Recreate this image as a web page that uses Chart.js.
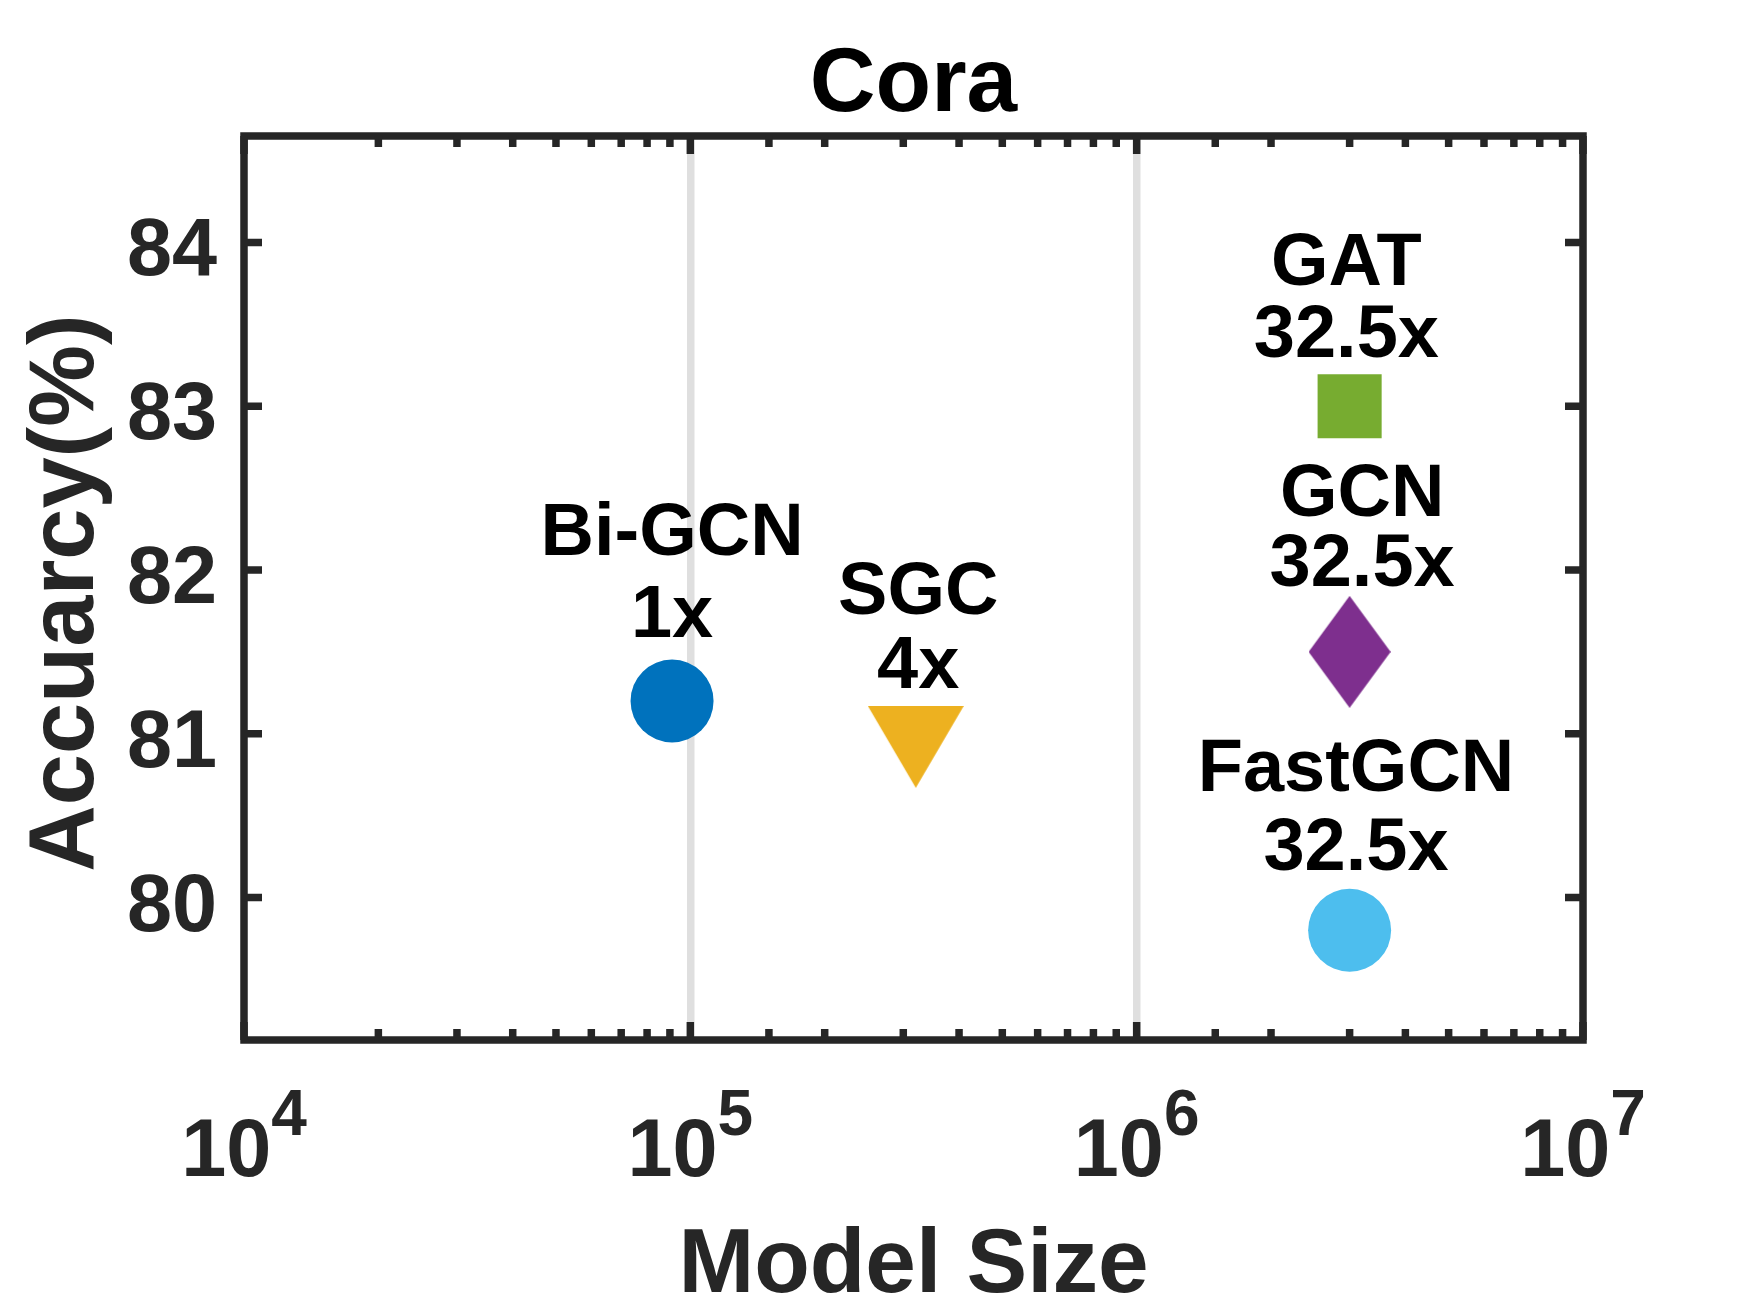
<!DOCTYPE html>
<html>
<head>
<meta charset="utf-8">
<script src="https://cdn.jsdelivr.net/npm/chart.js@4.4.1/dist/chart.umd.min.js"></script>
<style>
  html, body { margin: 0; padding: 0; background: #fff; }
  canvas { display: block; }
</style>
</head>
<body>
<canvas id="chart" width="1750" height="1313"></canvas>
<script>
// values
const methods = ["Bi-GCN", "SGC", "GAT", "GCN", "FastGCN"];
const ratios = ["1x", "4x", "32.5x", "32.5x", "32.5x"];
const modelSize = [9.1e4, 3.2e5, 3.0e6, 3.0e6, 3.0e6];
const accuracy = [81.2, 80.92, 83.0, 81.5, 79.8];

// where each two-line label sits, in data units (x centre, baseline of each line)
const labelX = [9.1e4, 3.24e5, 2.95e6, 3.2e6, 3.1e6];
const nameY = [82.09, 81.73, 83.74, 82.33, 80.65];
const ratioY = [81.59, 81.28, 83.30, 81.90, 80.17];

const xTicks = [1e4, 1e5, 1e6, 1e7];
const yTicks = [80, 81, 82, 83, 84];

const FONT = "'Liberation Sans', Arial, sans-serif";
const AXIS = "#262626";
const colors = ["#0072BD", "#EDB120", "#77AC30", "#7E2F8E", "#4DBEEE"];

// custom marker shapes (MATLAB 'v' and 'd')
function shape(w, h, color, pts) {
  const c = document.createElement("canvas");
  c.width = w;
  c.height = h;
  const g = c.getContext("2d");
  g.fillStyle = color;
  g.beginPath();
  pts.forEach(([px, py], i) => (i ? g.lineTo(px * w, py * h) : g.moveTo(px * w, py * h)));
  g.closePath();
  g.fill();
  return c;
}
const triDown = shape(96, 82, colors[1], [[0, 0], [1, 0], [0.5, 1]]);
const diamond = shape(82, 112, colors[3], [[0.5, 0], [1, 0.5], [0.5, 1], [0, 0.5]]);
const styles = ["circle", triDown, "rect", diamond, "circle"];
const radii = [41.5, 48, 45.3, 56, 41.5];

const isDecade = (v) => {
  const e = Math.log10(v);
  return Math.abs(e - Math.round(e)) < 1e-6;
};

// text next to each marker
const pointLabels = {
  id: "pointLabels",
  afterDatasetsDraw(chart) {
    const { ctx, scales: { x, y } } = chart;
    ctx.save();
    ctx.fillStyle = "#000";
    ctx.font = `bold 74px ${FONT}`;
    ctx.textAlign = "center";
    ctx.textBaseline = "alphabetic";
    methods.forEach((m, i) => {
      const px = x.getPixelForValue(labelX[i]);
      ctx.fillText(m, px, y.getPixelForValue(nameY[i]));
      ctx.fillText(ratios[i], px, y.getPixelForValue(ratioY[i]));
    });
    ctx.restore();
  },
};

// box, inward ticks, tick labels and titles
const frame = {
  id: "frame",
  afterDraw(chart) {
    const { ctx, chartArea: a, scales: { x, y } } = chart;
    ctx.save();
    ctx.strokeStyle = AXIS;
    ctx.lineWidth = 7.5;
    ctx.lineCap = "butt";
    ctx.strokeRect(a.left, a.top, a.right - a.left, a.bottom - a.top);

    ctx.beginPath();
    x.ticks.forEach((t) => {
      const px = x.getPixelForValue(t.value);
      const len = isDecade(t.value) ? 18 : 11;
      ctx.moveTo(px, a.bottom);
      ctx.lineTo(px, a.bottom - len);
      ctx.moveTo(px, a.top);
      ctx.lineTo(px, a.top + len);
    });
    yTicks.forEach((v) => {
      const py = y.getPixelForValue(v);
      ctx.moveTo(a.left, py);
      ctx.lineTo(a.left + 18, py);
      ctx.moveTo(a.right, py);
      ctx.lineTo(a.right - 18, py);
    });
    ctx.stroke();

    // y tick labels
    ctx.fillStyle = AXIS;
    ctx.font = `bold 81px ${FONT}`;
    ctx.textAlign = "right";
    ctx.textBaseline = "alphabetic";
    yTicks.forEach((v) => ctx.fillText(String(v), a.left - 27, y.getPixelForValue(v) + 33));

    // x tick labels as 10^n
    ctx.textAlign = "left";
    xTicks.forEach((v) => {
      const px = x.getPixelForValue(v);
      const exp = String(Math.round(Math.log10(v)));
      ctx.font = `bold 81px ${FONT}`;
      const wb = ctx.measureText("10").width;
      ctx.font = `bold 64px ${FONT}`;
      const we = ctx.measureText(exp).width;
      const left = px - (wb + we) / 2;
      ctx.font = `bold 81px ${FONT}`;
      ctx.fillText("10", left, a.bottom + 136);
      ctx.font = `bold 64px ${FONT}`;
      ctx.fillText(exp, left + wb, a.bottom + 95);
    });

    const cx = (a.left + a.right) / 2;
    ctx.textAlign = "center";

    // title
    ctx.fillStyle = "#000";
    ctx.font = `bold 91px ${FONT}`;
    ctx.fillText("Cora", cx, 111);

    // axis titles
    ctx.fillStyle = AXIS;
    ctx.font = `bold 91px ${FONT}`;
    ctx.fillText("Model Size", cx, a.bottom + 252);

    ctx.font = `bold 92px ${FONT}`;
    ctx.translate(a.left - 151, (a.top + a.bottom) / 2 + 5);
    ctx.rotate(-Math.PI / 2);
    ctx.fillText("Accuarcy(%)", 0, 0);
    ctx.restore();
  },
};

new Chart(document.getElementById("chart"), {
  type: "scatter",
  data: {
    datasets: methods.map((m, i) => ({
      label: m,
      data: [{ x: modelSize[i], y: accuracy[i] }],
      pointStyle: styles[i],
      pointRadius: radii[i],
      pointHoverRadius: radii[i],
      pointBackgroundColor: colors[i],
      pointBorderWidth: 0,
      pointHoverBorderWidth: 0,
    })),
  },
  options: {
    responsive: false,
    devicePixelRatio: 1,
    animation: false,
    layout: { padding: { left: 244, top: 136, right: 167, bottom: 273 } },
    plugins: {
      legend: { display: false },
      tooltip: { enabled: false },
    },
    scales: {
      x: {
        type: "logarithmic",
        min: 1e4,
        max: 1e7,
        ticks: { display: false },
        border: { display: false },
        grid: {
          drawTicks: false,
          lineWidth: 7.5,
          color: (c) =>
            c.tick && isDecade(c.tick.value) && c.tick.value > 1e4 && c.tick.value < 1e7
              ? "#dfdfdf"
              : "rgba(0,0,0,0)",
        },
      },
      y: {
        min: 79.13,
        max: 84.65,
        ticks: { display: false, stepSize: 1 },
        border: { display: false },
        grid: { display: false, drawTicks: false },
      },
    },
  },
  plugins: [pointLabels, frame],
});
</script>
</body>
</html>
